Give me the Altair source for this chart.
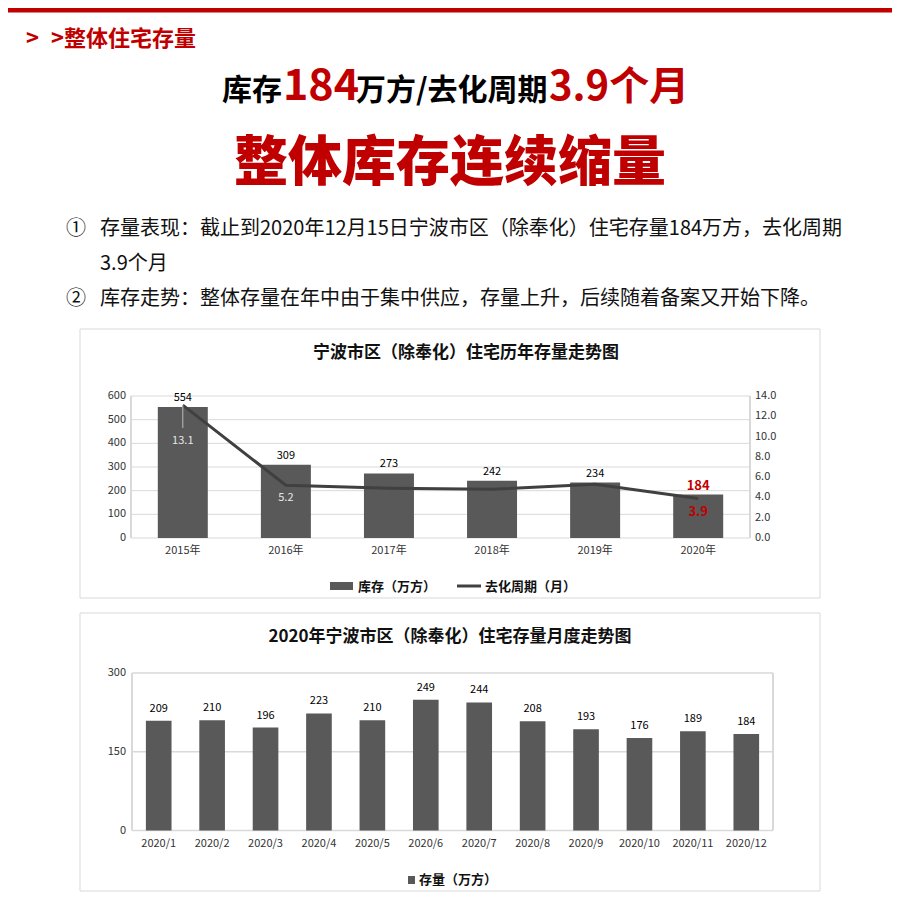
import altair as alt
import pandas as pd

# ---------------- data ----------------
years = ["2015年", "2016年", "2017年", "2018年", "2019年", "2020年"]
stock = [554, 309, 273, 242, 234, 184]
cycle = [13.1, 5.2, 4.9, 4.8, 5.3, 3.9]
left_ticks = [0, 100, 200, 300, 400, 500, 600]
right_ticks = [0, 2, 4, 6, 8, 10, 12, 14]

months = ["2020/1", "2020/2", "2020/3", "2020/4", "2020/5", "2020/6",
          "2020/7", "2020/8", "2020/9", "2020/10", "2020/11", "2020/12"]
monthly = [209, 210, 196, 223, 210, 249, 244, 208, 193, 176, 189, 184]
month_ticks = [0, 150, 300]

section_title = "> >整体住宅存量"
headline_parts = ["库存", "184", "万方/去化周期", "3.9个月"]
big_title = "整体库存连续缩量"
bullet1 = "存量表现：截止到2020年12月15日宁波市区（除奉化）住宅存量184万方，去化周期"
bullet1b = "3.9个月"
bullet2 = "库存走势：整体存量在年中由于集中供应，存量上升，后续随着备案又开始下降。"
chart1_title = "宁波市区（除奉化）住宅历年存量走势图"
chart2_title = "2020年宁波市区（除奉化）住宅存量月度走势图"
legend1 = ["库存（万方）", "去化周期（月）"]
legend2 = "存量（万方）"

# ---------------- style ----------------
FONT = "Noto Sans CJK SC"
RED = "#c00000"
BAR = "#595959"
LINE = "#404040"
GRID = "#d9d9d9"
TXT = "#333333"


def px(x):
    return x - 8


def py(y):
    return y - 8


one = pd.DataFrame({"k": [0]})


def label(text, x, y, size, color="#000000", weight="normal", align="left", baseline="alphabetic"):
    return alt.Chart(one).mark_text(
        text=text, font=FONT, fontSize=size, color=color, fontWeight=weight,
        align=align, baseline=baseline
    ).encode(x=alt.value(px(x)), y=alt.value(py(y)))


def box(x0, x1, y0, y1, fill="white", stroke=None, sw=1):
    kw = dict(fill=fill)
    if stroke:
        kw.update(stroke=stroke, strokeWidth=sw)
    return alt.Chart(one).mark_rect(**kw).encode(
        x=alt.value(px(x0)), x2=alt.value(px(x1)), y=alt.value(py(y0)), y2=alt.value(py(y1)))


def vline(x, y0, y1, color=GRID, sw=2):
    return alt.Chart(one).mark_rule(color=color, strokeWidth=sw).encode(
        x=alt.value(px(x)), y=alt.value(py(y0)), y2=alt.value(py(y1)))


# ---------------- header ----------------
header = [
    box(0, 892, 8, 12.5, fill=RED),
    label(">", 26, 46, 22, RED, "bold"),
    label(section_title[2:], 51, 46, 22, RED, "bold"),
    label(headline_parts[0], 222, 100, 30, "#000000", "bold"),
    label(headline_parts[1], 283, 100, 43, RED, "bold"),
    label(headline_parts[2], 356, 100, 30, "#000000", "bold"),
    label(headline_parts[3], 549, 100, 40, RED, "bold"),
    label(big_title, 450, 181, 54, RED, 900, align="center"),
    label("①", 66, 235, 20, "#111111"),
    label(bullet1, 100, 235, 20, "#111111"),
    label(bullet1b, 100, 270, 20, "#111111"),
    label("②", 66, 305, 20, "#111111"),
    label(bullet2, 100, 305, 20, "#111111"),
]

# ---------------- panel 1 ----------------
df1 = pd.DataFrame({"year": years, "stock": stock, "cycle": cycle})
X1L, X1R, Y1B, Y1T = 131, 750, 538, 396
xs1 = alt.Scale(type="band", domain=years, range=[px(X1L), px(X1R)], paddingInner=0.515, paddingOuter=0.26)
ys1 = alt.Scale(domain=[0, 600], range=[py(Y1B), py(Y1T)], nice=False, zero=True)
yl1 = alt.Scale(domain=[0, 14], range=[py(Y1B), py(Y1T)], nice=False, zero=True)
X1 = alt.X("year:N", scale=xs1, axis=None, sort=years)

grid1 = alt.Chart(pd.DataFrame({"v": left_ticks})).mark_rule(color=GRID, strokeWidth=1).encode(
    y=alt.Y("v:Q", scale=ys1, axis=None), x=alt.value(px(X1L)), x2=alt.value(px(X1R)))
ltick1 = alt.Chart(pd.DataFrame({"v": left_ticks})).mark_text(
    font=FONT, fontSize=11, color=TXT, align="right", baseline="middle").encode(
    y=alt.Y("v:Q", scale=ys1, axis=None), x=alt.value(px(126)), text="v:Q")
rtick1 = alt.Chart(pd.DataFrame({"v": right_ticks})).mark_text(
    font=FONT, fontSize=11, color=TXT, align="left", baseline="middle").encode(
    y=alt.Y("v:Q", scale=yl1, axis=None), x=alt.value(px(755)), text=alt.Text("v:Q", format=".1f"))
bars1 = alt.Chart(df1).mark_bar(color=BAR).encode(x=X1, y=alt.Y("stock:Q", scale=ys1, axis=None))
xlab1 = alt.Chart(df1).mark_text(font=FONT, fontSize=11, color=TXT, baseline="middle").encode(
    x=X1, y=alt.value(py(551)), text="year:N")
blab1 = alt.Chart(df1).transform_filter(alt.datum.year != years[-1]).mark_text(
    font=FONT, fontSize=11, color="#000000", baseline="middle", dy=-9).encode(
    x=X1, y=alt.Y("stock:Q", scale=ys1, axis=None), text="stock:Q")
blab1r = alt.Chart(df1).transform_filter(alt.datum.year == years[-1]).mark_text(
    font=FONT, fontSize=13, fontWeight="bold", color=RED, baseline="middle", dy=-8).encode(
    x=X1, y=alt.Y("stock:Q", scale=ys1, axis=None), text="stock:Q")
line1 = alt.Chart(df1).mark_line(color=LINE, strokeWidth=3).encode(
    x=X1, y=alt.Y("cycle:Q", scale=yl1, axis=None))
leader = alt.Chart(df1).transform_filter(alt.datum.year == years[0]).mark_rule(
    color="#bdbdbd", strokeWidth=1).encode(
    x=X1, y=alt.Y("cycle:Q", scale=yl1, axis=None), y2=alt.value(py(428)))
llab_a = alt.Chart(df1).transform_filter(alt.datum.year == years[0]).mark_text(
    font=FONT, fontSize=11, color="#e6e6e6", baseline="middle", dy=36).encode(
    x=X1, y=alt.Y("cycle:Q", scale=yl1, axis=None), text=alt.Text("cycle:Q", format=".1f"))
llab_b = alt.Chart(df1).transform_filter(alt.datum.year == years[1]).mark_text(
    font=FONT, fontSize=11, color="#e6e6e6", baseline="middle", dy=13).encode(
    x=X1, y=alt.Y("cycle:Q", scale=yl1, axis=None), text=alt.Text("cycle:Q", format=".1f"))
llab_d = alt.Chart(df1).transform_filter(alt.datum.year == years[-1]).mark_text(
    font=FONT, fontSize=13, fontWeight="bold", color=RED, baseline="middle", dy=14).encode(
    x=X1, y=alt.Y("cycle:Q", scale=yl1, axis=None), text=alt.Text("cycle:Q", format=".1f"))

panel1 = alt.layer(
    box(80, 820, 329, 598, fill="white", stroke=GRID, sw=1),
    label(chart1_title, 466, 358, 17, "#111111", "bold", align="center"),
    grid1,
    vline(X1L, Y1T, Y1B), vline(X1R, Y1T, Y1B),
    ltick1, rtick1, bars1, xlab1, blab1, blab1r, line1, leader, llab_a, llab_b, llab_d,
    box(330, 353, 582, 590, fill=BAR),
    label(legend1[0], 358, 591, 13, "#111111", "bold"),
    alt.Chart(one).mark_rule(color=LINE, strokeWidth=3).encode(
        x=alt.value(px(457)), x2=alt.value(px(481)), y=alt.value(py(586))),
    label(legend1[1], 485, 591, 13, "#111111", "bold"),
).resolve_scale(y="independent")

# ---------------- panel 2 ----------------
df2 = pd.DataFrame({"month": months, "stock": monthly})
X2L, X2R, Y2B, Y2T = 132, 773, 830.5, 673
xs2 = alt.Scale(type="band", domain=months, range=[px(X2L), px(X2R)], paddingInner=0.52, paddingOuter=0.26)
ys2 = alt.Scale(domain=[0, 300], range=[py(Y2B), py(Y2T)], nice=False, zero=True)
X2 = alt.X("month:N", scale=xs2, axis=None, sort=months)

grid2 = alt.Chart(pd.DataFrame({"v": month_ticks})).mark_rule(color=GRID, strokeWidth=1.5).encode(
    y=alt.Y("v:Q", scale=ys2, axis=None), x=alt.value(px(X2L)), x2=alt.value(px(X2R)))
ltick2 = alt.Chart(pd.DataFrame({"v": month_ticks})).mark_text(
    font=FONT, fontSize=11, color=TXT, align="right", baseline="middle").encode(
    y=alt.Y("v:Q", scale=ys2, axis=None), x=alt.value(px(126)), text="v:Q")
bars2 = alt.Chart(df2).mark_bar(color=BAR).encode(x=X2, y=alt.Y("stock:Q", scale=ys2, axis=None))
blab2 = alt.Chart(df2).mark_text(font=FONT, fontSize=11, color="#000000", baseline="middle", dy=-12).encode(
    x=X2, y=alt.Y("stock:Q", scale=ys2, axis=None), text="stock:Q")
xlab2 = alt.Chart(df2).mark_text(font=FONT, fontSize=11, color=TXT, baseline="middle").encode(
    x=X2, y=alt.value(py(844)), text="month:N")

panel2 = alt.layer(
    box(80, 820, 613, 891, fill="white", stroke=GRID, sw=1),
    label(chart2_title, 450, 642, 17, "#111111", "bold", align="center"),
    grid2,
    vline(X2L, Y2T, Y2B), vline(X2R, Y2T, Y2B),
    ltick2, bars2, blab2, xlab2,
    box(408, 415, 876, 884, fill=BAR),
    label(legend2, 419, 884, 13, "#111111", "bold"),
)

chart = alt.layer(*header, panel1, panel2).resolve_scale(
    x="independent", y="independent"
).properties(
    width=884, height=884, padding=0,
    autosize=alt.AutoSizeParams(type="none"),
).configure_view(stroke=None)

chart.save("out.html", embed_options={"renderer": "svg", "actions": False})
